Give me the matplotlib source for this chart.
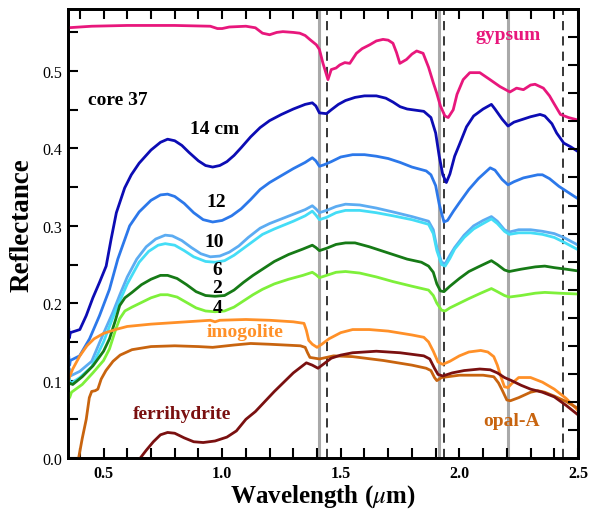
import matplotlib
matplotlib.use("Agg")
import matplotlib.pyplot as plt
import numpy as np

plt.rcParams['font.family'] = ['Liberation Serif', 'DejaVu Serif']
plt.rcParams['mathtext.fontset'] = 'stix'

# ---------------- data ----------------
gyp_wl = [0.35, 0.45, 0.6, 0.8, 0.95, 0.98, 1.0, 1.03, 1.1, 1.14, 1.17, 1.2, 1.23, 1.256, 1.3, 1.327, 1.35, 1.369,
          1.397, 1.41, 1.425, 1.446, 1.46, 1.48, 1.496, 1.517, 1.538, 1.566, 1.59, 1.622, 1.65, 1.678, 1.7, 1.72,
          1.735, 1.749, 1.777, 1.8, 1.82, 1.847, 1.87, 1.89, 1.904, 1.92, 1.939, 1.953, 1.974, 1.99, 2.016, 2.044,
          2.086, 2.129, 2.171, 2.213, 2.241, 2.27, 2.3, 2.319, 2.354, 2.38, 2.397, 2.426, 2.46, 2.497]
gyp_r = [0.556, 0.558, 0.559, 0.559, 0.558, 0.555, 0.555, 0.557, 0.558, 0.556, 0.549, 0.547, 0.55, 0.551, 0.55,
         0.549, 0.546, 0.541, 0.534, 0.528, 0.51, 0.489, 0.502, 0.504, 0.508, 0.511, 0.51, 0.523, 0.529, 0.534, 0.539,
         0.541, 0.54, 0.536, 0.524, 0.51, 0.515, 0.522, 0.526, 0.523, 0.505, 0.485, 0.472, 0.455, 0.442, 0.44, 0.45,
         0.47, 0.489, 0.498, 0.498, 0.489, 0.48, 0.473, 0.478, 0.476, 0.482, 0.483, 0.478, 0.468, 0.459, 0.444, 0.44,
         0.437]

c14_wl = [0.35, 0.353, 0.356, 0.36, 0.4, 0.427, 0.455, 0.483, 0.511, 0.532, 0.554, 0.589, 0.617, 0.65, 0.7, 0.74,
          0.77, 0.8, 0.83, 0.86, 0.9, 0.93, 0.96, 0.99, 1.02, 1.05, 1.08, 1.12, 1.16, 1.2, 1.25, 1.3, 1.35, 1.38,
          1.395, 1.41, 1.44, 1.46, 1.49, 1.52, 1.56, 1.6, 1.65, 1.69, 1.72, 1.75, 1.78, 1.85, 1.88, 1.9, 1.915, 1.93,
          1.945, 1.96, 1.98, 2.0, 2.03, 2.06, 2.1, 2.135, 2.15, 2.18, 2.205, 2.23, 2.27, 2.3, 2.34, 2.36, 2.39, 2.41,
          2.44, 2.47, 2.495]
c14_r = [0.152, 0.168, 0.155, 0.162, 0.166, 0.184, 0.207, 0.227, 0.248, 0.283, 0.317, 0.349, 0.366, 0.381, 0.398,
         0.408, 0.412, 0.41, 0.404, 0.395, 0.384, 0.378, 0.376, 0.378, 0.383, 0.391, 0.401, 0.415, 0.427, 0.436,
         0.444, 0.451, 0.457, 0.459, 0.455, 0.446, 0.445, 0.45, 0.457, 0.462, 0.466, 0.468, 0.468, 0.465, 0.46,
         0.454, 0.451, 0.448, 0.44, 0.42, 0.39, 0.366, 0.356, 0.367, 0.39, 0.405, 0.428, 0.442, 0.451, 0.457, 0.451,
         0.438, 0.429, 0.434, 0.438, 0.441, 0.444, 0.442, 0.432, 0.42, 0.407, 0.402, 0.397]

c12_wl = [0.35, 0.353, 0.357, 0.36, 0.399, 0.441, 0.483, 0.525, 0.56, 0.61, 0.65, 0.7, 0.74, 0.77, 0.8, 0.84, 0.88,
          0.92, 0.96, 1.0, 1.04, 1.08, 1.12, 1.16, 1.2, 1.25, 1.3, 1.35, 1.38, 1.395, 1.41, 1.43, 1.46, 1.5, 1.55, 1.6,
          1.65, 1.7, 1.75, 1.8, 1.86, 1.88, 1.9, 1.915, 1.935, 1.95, 1.975, 2.0, 2.04, 2.08, 2.13, 2.15, 2.18, 2.205,
          2.23, 2.27, 2.33, 2.35, 2.38, 2.42, 2.46, 2.495]
c12_r = [0.118, 0.132, 0.12, 0.126, 0.132, 0.154, 0.184, 0.218, 0.257, 0.3, 0.318, 0.333, 0.34, 0.341, 0.338, 0.329,
         0.317, 0.308, 0.305, 0.307, 0.313, 0.322, 0.334, 0.347, 0.356, 0.365, 0.374, 0.382, 0.388, 0.384, 0.377,
         0.379, 0.383, 0.389, 0.392, 0.392, 0.39, 0.387, 0.382, 0.376, 0.371, 0.366, 0.352, 0.328, 0.305, 0.307,
         0.319, 0.33, 0.347, 0.361, 0.375, 0.372, 0.36, 0.353, 0.357, 0.362, 0.366, 0.366, 0.361, 0.351, 0.343, 0.336]

c10_wl = [0.35, 0.355, 0.36, 0.4, 0.45, 0.483, 0.51, 0.539, 0.57, 0.6, 0.64, 0.68, 0.72, 0.76, 0.79, 0.83, 0.87, 0.91,
          0.95, 0.99, 1.03, 1.07, 1.11, 1.16, 1.2, 1.25, 1.3, 1.35, 1.38, 1.395, 1.41, 1.44, 1.48, 1.52, 1.58, 1.65,
          1.72, 1.8, 1.87, 1.89, 1.905, 1.925, 1.94, 1.96, 1.98, 2.02, 2.06, 2.1, 2.135, 2.16, 2.19, 2.21, 2.25, 2.3,
          2.35, 2.4, 2.44, 2.495]
c10_r = [0.108, 0.116, 0.106, 0.112, 0.125, 0.149, 0.168, 0.188, 0.212, 0.234, 0.257, 0.273, 0.283, 0.288, 0.287,
         0.281, 0.272, 0.264, 0.26, 0.261, 0.266, 0.274, 0.285, 0.297, 0.303, 0.309, 0.315, 0.321, 0.326, 0.322,
         0.317, 0.32, 0.325, 0.328, 0.327, 0.323, 0.318, 0.312, 0.306, 0.295, 0.272, 0.253, 0.251, 0.262, 0.272,
         0.288, 0.3, 0.307, 0.312, 0.306, 0.295, 0.292, 0.295, 0.295, 0.293, 0.29, 0.285, 0.276]

c6_wl = [0.35, 0.355, 0.36, 0.4, 0.45, 0.5, 0.55, 0.6, 0.65, 0.69, 0.73, 0.76, 0.8, 0.84, 0.88, 0.93, 0.97, 1.01,
         1.05, 1.09, 1.13, 1.17, 1.22, 1.3, 1.35, 1.38, 1.395, 1.41, 1.44, 1.48, 1.52, 1.58, 1.65, 1.72, 1.8, 1.87,
         1.89, 1.905, 1.925, 1.94, 1.96, 1.98, 2.02, 2.06, 2.1, 2.135, 2.16, 2.19, 2.21, 2.25, 2.3, 2.35, 2.4, 2.44,
         2.495]
c6_r = [0.098, 0.104, 0.096, 0.104, 0.118, 0.15, 0.19, 0.225, 0.253, 0.267, 0.275, 0.277, 0.275, 0.268, 0.26, 0.254,
        0.253, 0.255, 0.262, 0.271, 0.28, 0.289, 0.296, 0.306, 0.313, 0.319, 0.314, 0.308, 0.311, 0.317, 0.32, 0.32,
        0.317, 0.313, 0.308, 0.302, 0.29, 0.268, 0.25, 0.248, 0.258, 0.27, 0.285, 0.296, 0.303, 0.309, 0.303, 0.293,
        0.289, 0.291, 0.291, 0.289, 0.285, 0.279, 0.27]

c2_wl = [0.35, 0.355, 0.37, 0.41, 0.455, 0.5, 0.525, 0.55, 0.568, 0.59, 0.62, 0.66, 0.7, 0.74, 0.77, 0.81, 0.85,
         0.89, 0.93, 0.97, 1.01, 1.05, 1.09, 1.13, 1.17, 1.22, 1.28, 1.34, 1.38, 1.395, 1.41, 1.44, 1.48, 1.52, 1.56,
         1.62, 1.7, 1.78, 1.84, 1.87, 1.89, 1.905, 1.92, 1.935, 1.96, 2.0, 2.04, 2.08, 2.135, 2.16, 2.19, 2.21, 2.26,
         2.32, 2.36, 2.4, 2.45, 2.495]
c2_r = [0.088, 0.097, 0.095, 0.105, 0.119, 0.138, 0.154, 0.178, 0.197, 0.207, 0.214, 0.224, 0.231, 0.236, 0.236,
        0.232, 0.224, 0.215, 0.21, 0.209, 0.21, 0.217, 0.227, 0.236, 0.244, 0.254, 0.263, 0.27, 0.275, 0.272, 0.268,
        0.271, 0.276, 0.278, 0.278, 0.273, 0.265, 0.257, 0.253, 0.248, 0.24, 0.225, 0.216, 0.215, 0.222, 0.232,
        0.241, 0.247, 0.255, 0.25, 0.243, 0.241, 0.244, 0.247, 0.248, 0.246, 0.244, 0.242]

c4_wl = [0.35, 0.353, 0.357, 0.365, 0.41, 0.455, 0.5, 0.525, 0.55, 0.568, 0.59, 0.62, 0.66, 0.7, 0.74, 0.77, 0.81,
         0.85, 0.89, 0.93, 0.97, 1.01, 1.05, 1.09, 1.13, 1.17, 1.22, 1.28, 1.34, 1.38, 1.395, 1.41, 1.44, 1.48, 1.52,
         1.58, 1.65, 1.72, 1.8, 1.87, 1.89, 1.905, 1.925, 1.94, 1.96, 2.0, 2.04, 2.09, 2.135, 2.16, 2.19, 2.21, 2.26,
         2.32, 2.36, 2.42, 2.495]
c4_r = [0.072, 0.084, 0.078, 0.085, 0.095, 0.11, 0.126, 0.141, 0.165, 0.18, 0.19, 0.195, 0.201, 0.207, 0.211, 0.211,
        0.208, 0.201, 0.194, 0.19, 0.189, 0.19, 0.195, 0.203, 0.211, 0.218, 0.225, 0.231, 0.236, 0.24, 0.237, 0.233,
        0.236, 0.24, 0.241, 0.239, 0.234, 0.228, 0.222, 0.217, 0.21, 0.2, 0.191, 0.19, 0.194, 0.2, 0.206, 0.213,
        0.219, 0.215, 0.21, 0.208, 0.21, 0.213, 0.214, 0.213, 0.212]

imo_wl = [0.35, 0.37, 0.4, 0.43, 0.46, 0.5, 0.55, 0.6, 0.7, 0.8, 0.9, 0.95, 0.97, 0.99, 1.1, 1.2, 1.3, 1.345, 1.355,
          1.365, 1.38, 1.4, 1.42, 1.45, 1.5, 1.55, 1.62, 1.7, 1.8, 1.85, 1.87, 1.89, 1.91, 1.93, 1.96, 2.0, 2.04,
          2.09, 2.12, 2.145, 2.16, 2.175, 2.19, 2.205, 2.22, 2.25, 2.3, 2.35, 2.4, 2.45, 2.495]
imo_r = [0.1, 0.115, 0.132, 0.145, 0.154, 0.161, 0.166, 0.17, 0.173, 0.175, 0.177, 0.178, 0.176, 0.178, 0.179,
         0.178, 0.176, 0.174, 0.165, 0.152, 0.147, 0.143, 0.147, 0.154, 0.162, 0.166, 0.166, 0.164, 0.159, 0.156,
         0.15, 0.138, 0.124, 0.121, 0.125, 0.132, 0.137, 0.139, 0.137, 0.131, 0.12, 0.105, 0.092, 0.091, 0.096,
         0.104, 0.104, 0.098, 0.089, 0.077, 0.063]

opa_wl = [0.395, 0.41, 0.427, 0.44, 0.45, 0.465, 0.476, 0.49, 0.51, 0.54, 0.57, 0.62, 0.7, 0.8, 0.9, 0.96, 1.05,
          1.12, 1.2, 1.33, 1.35, 1.36, 1.37, 1.41, 1.47, 1.55, 1.68, 1.8, 1.86, 1.88, 1.895, 1.905, 1.925, 2.0, 2.1,
          2.145, 2.165, 2.18, 2.2, 2.215, 2.25, 2.3, 2.33, 2.36, 2.4, 2.45, 2.495]
opa_r = [0.0, 0.025, 0.05, 0.078, 0.086, 0.087, 0.089, 0.102, 0.113, 0.125, 0.133, 0.14, 0.144, 0.145, 0.144,
         0.143, 0.146, 0.148, 0.147, 0.145, 0.143, 0.136, 0.13, 0.128, 0.132, 0.131, 0.126, 0.12, 0.116, 0.113,
         0.104, 0.1, 0.104, 0.107, 0.107, 0.105, 0.097, 0.088, 0.075, 0.074, 0.078, 0.085, 0.087, 0.085, 0.08,
         0.073, 0.065]

fer_wl = [0.655, 0.68, 0.71, 0.74, 0.77, 0.8, 0.84, 0.88, 0.92, 0.97, 1.02, 1.06, 1.1, 1.14, 1.18, 1.22, 1.26, 1.3,
          1.355, 1.38, 1.404, 1.43, 1.46, 1.5, 1.55, 1.65, 1.75, 1.85, 1.875, 1.895, 1.91, 1.93, 1.97, 2.02, 2.086,
          2.13, 2.16, 2.19, 2.22, 2.26, 2.3, 2.35, 2.4, 2.45, 2.495]
fer_r = [0.0, 0.01, 0.021, 0.03, 0.033, 0.032, 0.026, 0.021, 0.02, 0.022, 0.027, 0.035, 0.05, 0.06, 0.073, 0.086,
         0.098, 0.11, 0.123, 0.12, 0.116, 0.122, 0.129, 0.133, 0.136, 0.138, 0.136, 0.132, 0.128, 0.116, 0.108,
         0.106, 0.11, 0.113, 0.115, 0.114, 0.11, 0.104, 0.1, 0.094, 0.089, 0.085, 0.079, 0.068, 0.057]

gray_lines = [1.41, 1.915, 2.205]
dash_lines = [1.44, 1.935, 2.435]

labels = ["core 37", "14 cm", "12", "10", "6", "2", "4", "imogolite", "ferrihydrite", "gypsum", "opal-A"]

# ---------------- plot ----------------
fig = plt.figure(figsize=(5.91, 5.10), dpi=100)
ax = fig.add_axes([0.115, 0.1, 0.863, 0.88])

for x in gray_lines:
    ax.axvline(x, color='#a9a9a9', lw=2.2, zorder=1)
for x in dash_lines:
    ax.axvline(x, color='black', lw=1.1, ls=(0, (6, 4)), zorder=1)

series = [
    (gyp_wl, gyp_r, '#e8177c'),
    (c14_wl, c14_r, '#0c0cb4'),
    (c12_wl, c12_r, '#2c78ea'),
    (c10_wl, c10_r, '#5cacf2'),
    (c6_wl, c6_r, '#44ddf6'),
    (c2_wl, c2_r, '#167a16'),
    (c4_wl, c4_r, '#7ef03a'),
    (imo_wl, imo_r, '#ff9028'),
    (opa_wl, opa_r, '#c8640f'),
    (fer_wl, fer_r, '#7a1010'),
]
for wl, r, c in series:
    ax.plot(wl, r, color=c, lw=2.0, zorder=3, solid_joinstyle='round')

ax.set_xlim(0.35, 2.5)
ax.set_ylim(0.0, 0.58)
ax.set_xticks([0.5, 1.0, 1.5, 2.0, 2.5])
ax.set_xticklabels(['0.5', '1.0', '1.5', '2.0', '2.5'], fontweight='bold')
ax.set_xticks(np.arange(0.4, 2.5, 0.1), minor=True)
ax.set_yticks([0.0, 0.1, 0.2, 0.3, 0.4, 0.5])
ax.set_yticklabels(['0.0', '0.1', '0.2', '0.3', '0.4', '0.5'])
ax.set_yticks(np.arange(0.05, 0.58, 0.1), minor=True)
ax.tick_params(axis='both', which='both', direction='in', length=7, width=1.5, labelsize=11.5)
ax.tick_params(axis='x', which='both', top=True, pad=5)
ax.tick_params(axis='y', which='both', right=False, pad=4)

ax2 = ax.twinx()
ax2.set_ylim(0, 16)
ax2.set_yticks(np.arange(1, 16))
ax2.set_yticklabels([])
ax2.tick_params(axis='y', direction='in', length=7, width=1.5)

for a in (ax, ax2):
    for s in a.spines.values():
        s.set_linewidth(2)

ax.set_xlabel(r'Wavelength ($\mu$m)', fontsize=18, fontweight='bold')
ax.xaxis.set_label_coords(0.5, -0.083)
ax.xaxis.label.set_va('center')
ax.set_ylabel('Reflectance', fontsize=19.5, fontweight='bold')
ax.yaxis.set_label_coords(-0.09, 0.52)
ax.yaxis.label.set_va('center')

txt = dict(fontsize=14, fontweight='bold', ha='center', va='center', zorder=5)
ax.text(0.559, 0.463, labels[0], color='black', **txt)
ax.text(0.968, 0.426, labels[1], color='black', **txt)
ax.text(0.977, 0.332, labels[2], color='black', **txt)
ax.text(0.968, 0.280, labels[3], color='black', **txt)
ax.text(0.98, 0.243, labels[4], color='black', **txt)
ax.text(0.98, 0.220, labels[5], color='black', **txt)
ax.text(0.98, 0.194, labels[6], color='black', **txt)
ax.text(1.095, 0.164, labels[7], color='#ff9028', **txt)
ax.text(0.83, 0.058, labels[8], color='#7a1010', **txt)
ax.text(2.205, 0.547, labels[9], color='#e8177c', **txt)
ax.text(2.22, 0.049, labels[10], color='#c8640f', **txt)

fig.savefig('out.png', dpi=100)
